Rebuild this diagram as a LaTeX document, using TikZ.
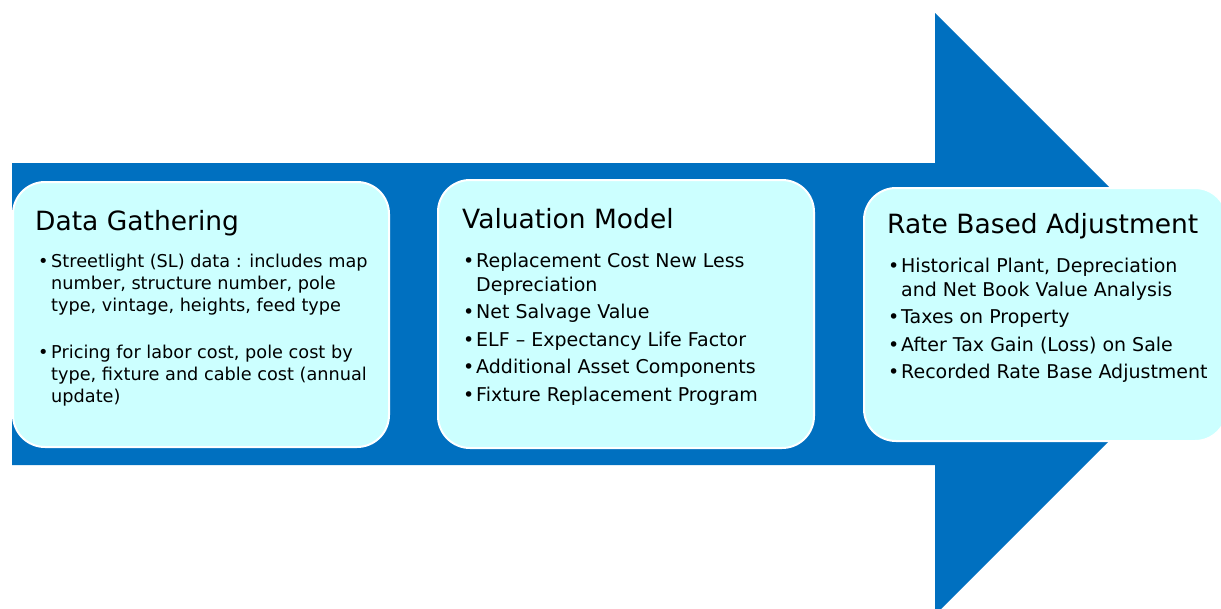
\documentclass[tikz,border=0pt]{standalone}
\usepackage{fontspec}
\setmainfont{DejaVu Sans}
\usetikzlibrary{positioning}
\definecolor{arrowblue}{RGB}{0,112,192}
\definecolor{boxcyan}{RGB}{204,255,255}
% bullet and the indent of a wrapped line
\newcommand{\stagebullet}{\makebox[13pt][l]{\textbullet}}
\newcommand{\stageindent}{\hspace*{13pt}}

\begin{document}
\begin{tikzpicture}
		[
			x = 1pt, y = -1pt,
			stagebox/.style = {rectangle, rounded corners = 32pt, fill = boxcyan, draw = white, line width = 2pt, anchor = north west, inner sep = 0pt},
			stagetitle/.style = {anchor = base west, inner sep = 0pt, font = \fontsize{26.5}{32}\selectfont},
			stagelist/.style = {anchor = north west, inner sep = 0pt, align = left, font = \fontsize{19}{24}\selectfont},
		]
			\clip (0,0) rectangle (1221,608);
			%
			\fill[arrowblue] (12,163) -- (935,163) -- (935,13) -- (1236,314) -- (935,615) -- (935,465) -- (12,465) -- cycle;
			%
			\node (gather) [stagebox, minimum width = 376pt, minimum height = 265pt] at (12,181) {};
			\node (valuation) [stagebox, minimum width = 376pt, minimum height = 268pt] at (437,179) {};
			\node (ratebase) [stagebox, minimum width = 363pt, minimum height = 253pt] at (863,187) {};
			%
			\node (gathertitle) [stagetitle, xshift = 23pt, yshift = -49pt] at (gather.north west) {Data Gathering};
			\node (gatherlist) [stagelist, font = \fontsize{17.7}{22}\selectfont, xshift = 26pt, yshift = -72.6pt] at (gather.north west)
				{\stagebullet Streetlight (SL) data : includes map\\
				 \stageindent number, structure number, pole\\
				 \stageindent type, vintage, heights, feed type\\[25pt]
				 \stagebullet Pricing for labor cost, pole cost by\\
				 \stageindent type, fixture and cable cost (annual\\
				 \stageindent update)};
			%
			\node (valuationtitle) [stagetitle, xshift = 25pt, yshift = -49pt] at (valuation.north west) {Valuation Model};
			\node (valuationlist) [stagelist, xshift = 26pt, yshift = -73.6pt] at (valuation.north west)
				{\stagebullet Replacement Cost New Less\\
				 \stageindent Depreciation\\[3.5pt]
				 \stagebullet Net Salvage Value\\[3.5pt]
				 \stagebullet ELF -- Expectancy Life Factor\\[3.5pt]
				 \stagebullet Additional Asset Components\\[3.5pt]
				 \stagebullet Fixture Replacement Program};
			%
			\node (ratebasetitle) [stagetitle, xshift = 24pt, yshift = -46pt] at (ratebase.north west) {Rate Based Adjustment};
			\node (ratebaselist) [stagelist, xshift = 25pt, yshift = -70.6pt] at (ratebase.north west)
				{\stagebullet Historical Plant, Depreciation\\
				 \stageindent and Net Book Value Analysis\\[3.5pt]
				 \stagebullet Taxes on Property\\[3.5pt]
				 \stagebullet After Tax Gain (Loss) on Sale\\[3.5pt]
				 \stagebullet Recorded Rate Base Adjustment};
			%
		\end{tikzpicture}
\end{document}
